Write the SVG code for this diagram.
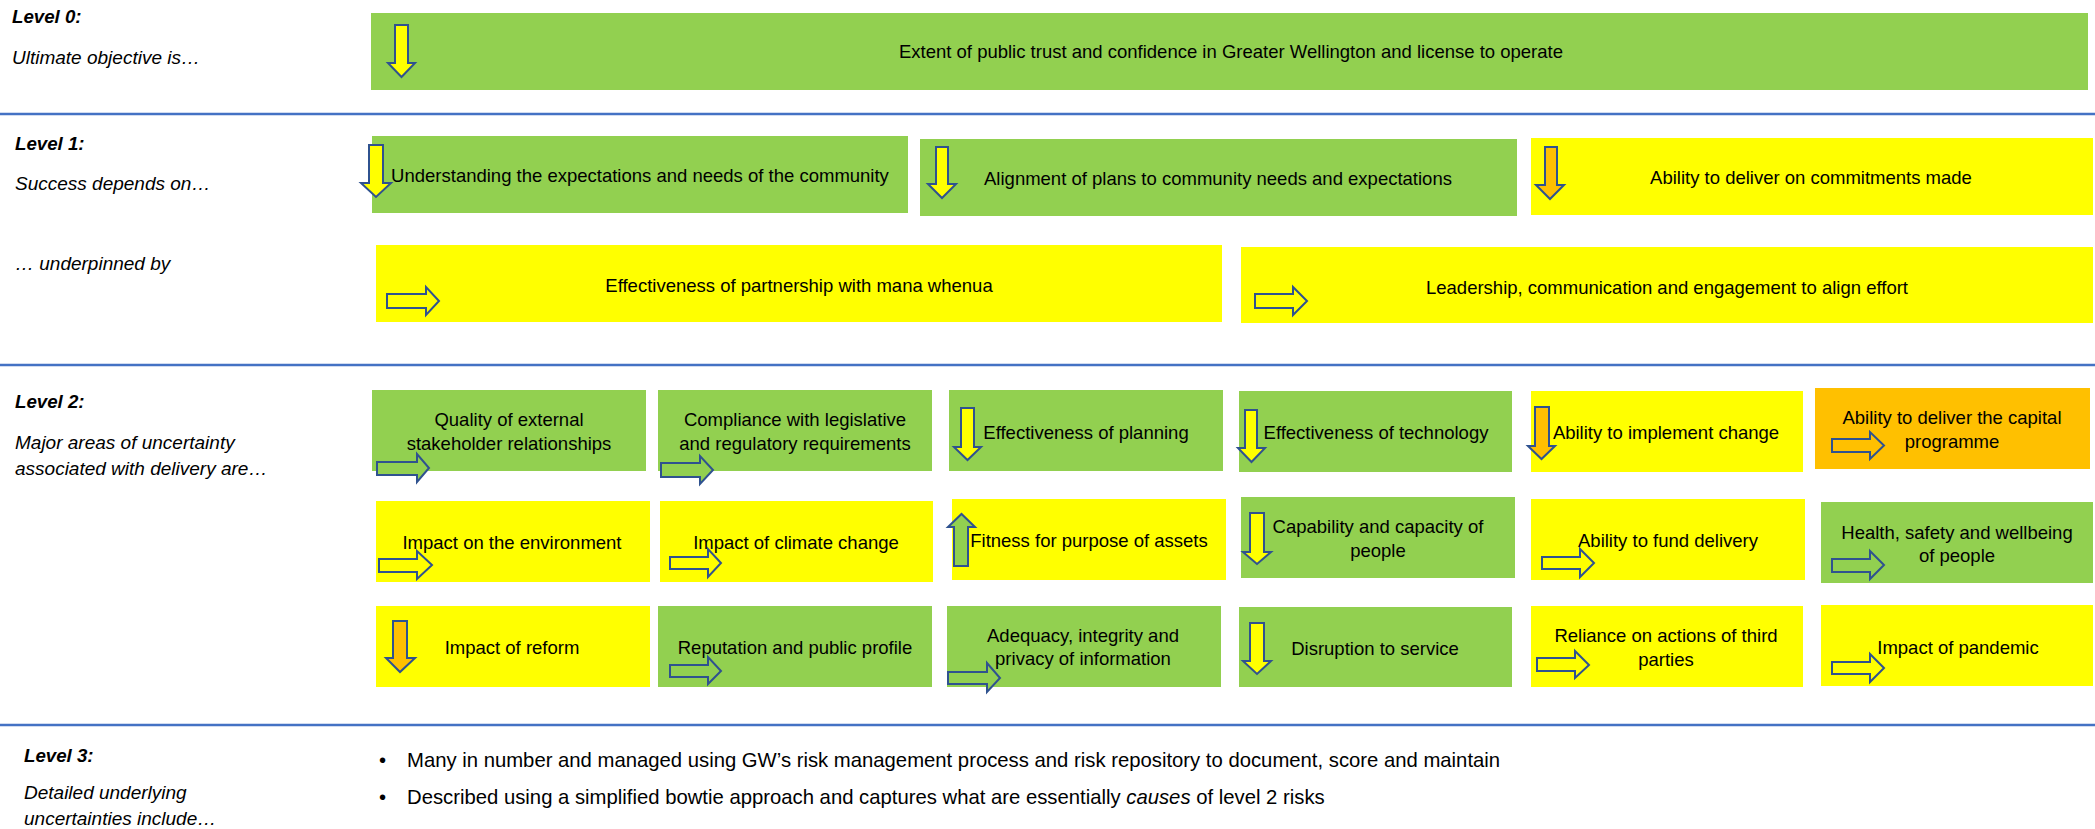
<svg xmlns="http://www.w3.org/2000/svg" width="2095" height="829" viewBox="0 0 2095 829">
<style>
.g{fill:#92D050}
.y{fill:#FFFF00}
.o{fill:#FFC000}
.t{font-family:"Liberation Sans",Arial,sans-serif;font-size:18.5px;fill:#000;text-anchor:middle}
.lb{font-family:"Liberation Sans",Arial,sans-serif;font-size:19px;fill:#000;font-style:italic}
.hd{font-weight:bold;font-size:18.7px}
.bl{font-family:"Liberation Sans",Arial,sans-serif;font-size:20.3px;fill:#000}
.ar{stroke:#2F528F;stroke-width:2;stroke-linejoin:miter}
.sep{stroke:#4472C4;stroke-width:2.5}
</style>
<rect width="2095" height="829" fill="#fff"/>
<g id="separators">
<line class="sep" x1="0" y1="114" x2="2095" y2="114"/>
<line class="sep" x1="0" y1="365" x2="2095" y2="365"/>
<line class="sep" x1="0" y1="725" x2="2095" y2="725"/>
</g>
<g id="labels">
<text class="lb hd" x="12" y="22.5">Level 0:</text>
<text class="lb" x="12" y="63.5">Ultimate objective is…</text>
<text class="lb hd" x="15" y="149.5">Level 1:</text>
<text class="lb" x="15" y="189.5">Success depends on…</text>
<text class="lb" x="15" y="269.5">… underpinned by</text>
<text class="lb hd" x="15" y="407.5">Level 2:</text>
<text class="lb" x="15" y="448.5">Major areas of uncertainty</text>
<text class="lb" x="15" y="474.5">associated with delivery are…</text>
<text class="lb hd" x="24" y="761.5">Level 3:</text>
<text class="lb" x="24" y="799">Detailed underlying</text>
<text class="lb" x="24" y="825">uncertainties include…</text>
</g>
<g id="level3-bullets">
<text class="bl" x="379" y="767">•</text>
<text class="bl" x="407" y="767">Many in number and managed using GW’s risk management process and risk repository to document, score and maintain</text>
<text class="bl" x="379" y="804">•</text>
<text class="bl" x="407" y="804">Described using a simplified bowtie approach and captures what are essentially <tspan font-style="italic">causes</tspan> of level 2 risks</text>
</g>
<g id="l0-trust">
<rect class="g" x="371" y="13" width="1717" height="77"/>
<text class="t" x="1231" y="57.5">Extent of public trust and confidence in Greater Wellington and license to operate</text>
<path class="ar y" d="M395,25 H408 V63 H415 L401.5,77 L388,63 H395 Z"/>
</g>
<g id="l1-understanding">
<rect class="g" x="372" y="136" width="536" height="77"/>
<text class="t" x="640" y="181.5">Understanding the expectations and needs of the community</text>
<path class="ar y" d="M369,145 H383 V183 H391 L376,197 L361,183 H369 Z"/>
</g>
<g id="l1-alignment">
<rect class="g" x="920" y="139" width="597" height="77"/>
<text class="t" x="1218" y="184.5">Alignment of plans to community needs and expectations</text>
<path class="ar y" d="M936,147 H948 V184 H956 L942,198 L928,184 H936 Z"/>
</g>
<g id="l1-deliver">
<rect class="y" x="1531" y="138" width="562" height="77"/>
<text class="t" x="1811" y="183.5">Ability to deliver on commitments made</text>
<path class="ar o" d="M1545,147 H1557 V185 H1564 L1550,199 L1536,185 H1545 Z"/>
</g>
<g id="l1-partnership">
<rect class="y" x="376" y="245" width="846" height="77"/>
<text class="t" x="799" y="291.5">Effectiveness of partnership with mana whenua</text>
<path class="ar y" d="M387,294 H426 V287 L439,301 L426,315 V308 H387 Z"/>
</g>
<g id="l1-leadership">
<rect class="y" x="1241" y="247" width="852" height="76"/>
<text class="t" x="1667" y="293.5">Leadership, communication and engagement to align effort</text>
<path class="ar y" d="M1255,294 H1293 V287 L1307,301 L1293,315 V308 H1255 Z"/>
</g>
<g id="l2-stakeholder">
<rect class="g" x="372" y="390" width="274" height="81"/>
<text class="t" x="509" y="425.5">Quality of external</text>
<text class="t" x="509" y="449.5">stakeholder relationships</text>
<path class="ar g" d="M377,462 H417 V454 L429,468 L417,482 V475 H377 Z"/>
</g>
<g id="l2-compliance">
<rect class="g" x="658" y="390" width="274" height="81"/>
<text class="t" x="795" y="425.5">Compliance with legislative</text>
<text class="t" x="795" y="449.5">and regulatory requirements</text>
<path class="ar g" d="M661,463 H700 V456 L713,470 L700,484 V477 H661 Z"/>
</g>
<g id="l2-planning">
<rect class="g" x="949" y="390" width="274" height="81"/>
<text class="t" x="1086" y="438.5">Effectiveness of planning</text>
<path class="ar y" d="M961,408 H974 V447 H981 L967.5,460 L954,447 H961 Z"/>
</g>
<g id="l2-technology">
<rect class="g" x="1239" y="391" width="273" height="81"/>
<text class="t" x="1376" y="438.5">Effectiveness of technology</text>
<path class="ar y" d="M1245,410 H1257 V448 H1265 L1251.5,462 L1238,448 H1245 Z"/>
</g>
<g id="l2-change">
<rect class="y" x="1531" y="391" width="272" height="81"/>
<text class="t" x="1666" y="438.5">Ability to implement change</text>
<path class="ar o" d="M1535,407 H1549 V446 H1555 L1541.5,459 L1528,446 H1535 Z"/>
</g>
<g id="l2-capital">
<rect class="o" x="1815" y="388" width="275" height="81"/>
<text class="t" x="1952" y="423.5">Ability to deliver the capital</text>
<text class="t" x="1952" y="447.5">programme</text>
<path class="ar o" d="M1832,439 H1870 V432 L1884,445.5 L1870,459 V452 H1832 Z"/>
</g>
<g id="l2-environment">
<rect class="y" x="376" y="501" width="274" height="81"/>
<text class="t" x="512" y="548.5">Impact on the environment</text>
<path class="ar y" d="M379,559 H417 V551 L432,565 L417,579 V572 H379 Z"/>
</g>
<g id="l2-climate">
<rect class="y" x="660" y="501" width="273" height="81"/>
<text class="t" x="796" y="548.5">Impact of climate change</text>
<path class="ar y" d="M670,557 H708 V549 L721,563 L708,577 V569 H670 Z"/>
</g>
<g id="l2-assets">
<rect class="y" x="952" y="499" width="274" height="81"/>
<text class="t" x="1089" y="546.5">Fitness for purpose of assets</text>
<path class="ar g" d="M954,566 V527 H948 L961.5,514 L975,527 H968 V566 Z"/>
</g>
<g id="l2-people">
<rect class="g" x="1241" y="497" width="274" height="81"/>
<text class="t" x="1378" y="532.5">Capability and capacity of</text>
<text class="t" x="1378" y="556.5">people</text>
<path class="ar y" d="M1250,513 H1264 V552 H1271 L1257,564 L1243,552 H1250 Z"/>
</g>
<g id="l2-fund">
<rect class="y" x="1531" y="499" width="274" height="81"/>
<text class="t" x="1668" y="546.5">Ability to fund delivery</text>
<path class="ar y" d="M1542,557 H1580 V549 L1594,563 L1580,577 V569 H1542 Z"/>
</g>
<g id="l2-health">
<rect class="g" x="1821" y="502" width="272" height="81"/>
<text class="t" x="1957" y="538.5">Health, safety and wellbeing</text>
<text class="t" x="1957" y="561.5">of people</text>
<path class="ar g" d="M1832,559 H1870 V551 L1884,565 L1870,579 V572 H1832 Z"/>
</g>
<g id="l2-reform">
<rect class="y" x="376" y="606" width="274" height="81"/>
<text class="t" x="512" y="653.5">Impact of reform</text>
<path class="ar o" d="M393,621 H407 V658 H415 L400,672 L386,658 H393 Z"/>
</g>
<g id="l2-reputation">
<rect class="g" x="658" y="606" width="274" height="81"/>
<text class="t" x="795" y="653.5">Reputation and public profile</text>
<path class="ar g" d="M670,665 H708 V657 L721,671 L708,684 V677 H670 Z"/>
</g>
<g id="l2-information">
<rect class="g" x="947" y="606" width="274" height="81"/>
<text class="t" x="1083" y="641.5">Adequacy, integrity and</text>
<text class="t" x="1083" y="664.5">privacy of information</text>
<path class="ar g" d="M948,672 H987 V663 L1000,678 L987,692 V684 H948 Z"/>
</g>
<g id="l2-disruption">
<rect class="g" x="1239" y="607" width="273" height="80"/>
<text class="t" x="1375" y="654.5">Disruption to service</text>
<path class="ar y" d="M1250,623 H1264 V661 H1271 L1257,674 L1243,661 H1250 Z"/>
</g>
<g id="l2-thirdparties">
<rect class="y" x="1531" y="606" width="272" height="81"/>
<text class="t" x="1666" y="641.5">Reliance on actions of third</text>
<text class="t" x="1666" y="665.5">parties</text>
<path class="ar y" d="M1537,658 H1575 V651 L1589,665 L1575,678 V671 H1537 Z"/>
</g>
<g id="l2-pandemic">
<rect class="y" x="1821" y="605" width="272" height="81"/>
<text class="t" x="1958" y="653.5">Impact of pandemic</text>
<path class="ar y" d="M1832,662 H1870 V654 L1884,668 L1870,682 V674 H1832 Z"/>
</g>
</svg>
